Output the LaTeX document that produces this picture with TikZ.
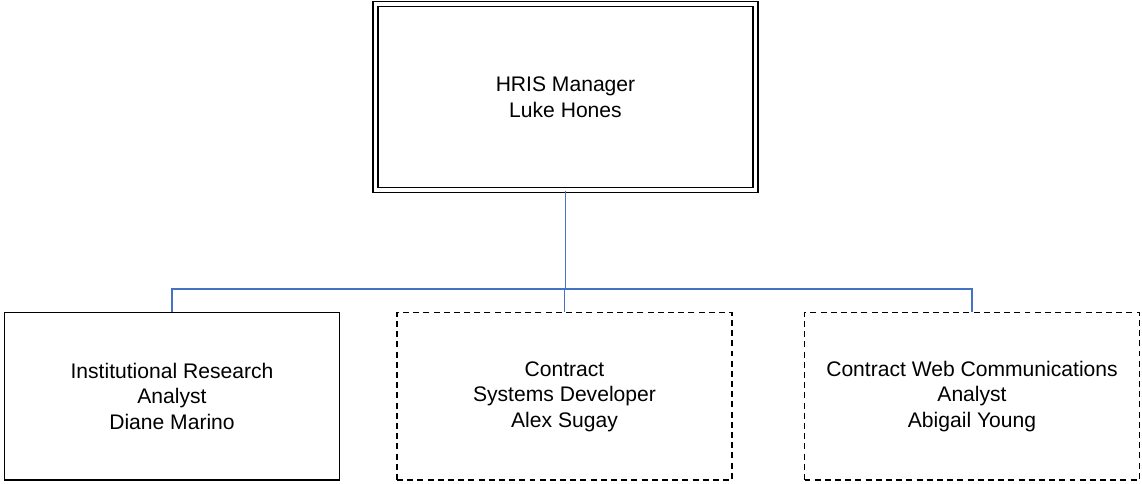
\documentclass[tikz,border=0pt]{standalone}
\usepackage{fontspec}
\setmainfont{Liberation Sans}
\usetikzlibrary{calc}
\definecolor{linkblue}{RGB}{68,114,196}

\begin{document}
\begin{tikzpicture}[
    every node/.style={font=\fontsize{12}{14.5}\selectfont, align=center},
    person/.style={draw, line width=0.8pt, minimum width=6.7cm, minimum height=3.35cm},
    contract/.style={person, dash pattern=on 3.4pt off 2.4pt},
    link/.style={draw=linkblue, line width=1.1pt}
]
\useasboundingbox (0, 0) rectangle (22.84, 9.68);

% manager
\node [draw, line width=0.75pt, double, double distance=2.1pt,
       minimum width=7.6cm, minimum height=3.72cm] (hris) at (11.31, 7.736)
    {HRIS Manager\\Luke Hones};

% staff
\def\y{1.752}
\node [person] (analyst) at (3.44, \y) {Institutional Research\\Analyst\\Diane Marino};
\node [contract] (developer) at (11.29, \y) {Contract\\Systems Developer\\Alex Sugay};
\node [contract] (web) at (19.44, \y) {Contract Web Communications\\Analyst\\Abigail Young};

% lines
\coordinate (bus) at (0, 3.894);
\draw [link] (hris.south) -- (hris.south |- bus) -| (analyst.north);
\draw [link] (hris.south |- bus) -| (developer.north);
\draw [link] (hris.south |- bus) -| (web.north);

\end{tikzpicture}
\end{document}
